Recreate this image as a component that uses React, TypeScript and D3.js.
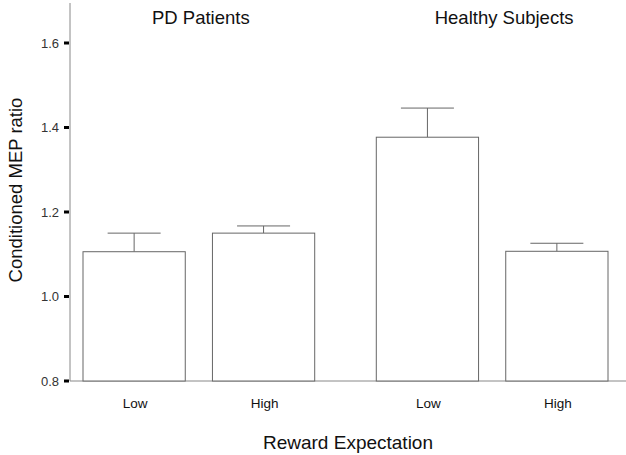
import React from "react";
import * as d3 from "d3";

const groups = ["PD Patients", "Healthy Subjects"];
const levels = ["Low", "High"];
const means = [
  [1.106, 1.15],
  [1.377, 1.107],
];
const errTops = [
  [1.15, 1.167],
  [1.446, 1.126],
];
const yTicks = [0.8, 1.0, 1.2, 1.4, 1.6];

const W = 626;
const H = 455;
const FONT = "'Liberation Sans', Arial, sans-serif";

export default function App() {
  const y = d3.scaleLinear().domain([0.8, 1.6]).range([381, 43]);
  const x0 = d3.scaleBand<string>().domain(groups).range([83, 608]).paddingInner(0.21).paddingOuter(0);
  const x1 = d3.scaleBand<string>().domain(levels).range([0, x0.bandwidth()]).paddingInner(0.21).paddingOuter(0);
  const axisX = 70;
  const bw = x1.bandwidth();
  const capW = 53;

  return (
    <svg width={W} height={H} style={{ position: "absolute", left: 0, top: 0, background: "#fff" }}>
      <line x1={axisX} x2={axisX} y1={3} y2={y(0.8)} stroke="#888" strokeWidth={1} />
      <line x1={axisX} x2={W} y1={y(0.8)} y2={y(0.8)} stroke="#888" strokeWidth={1} />
      {yTicks.map((t) => (
        <g key={t}>
          <rect x={64} y={y(t) - 1.5} width={5} height={3} fill="#000" />
          <text x={59} y={y(t) + 4.5} textAnchor="end" fontSize={13} fontFamily={FONT} fill="#333">
            {t.toFixed(1)}
          </text>
        </g>
      ))}
      {groups.map((g, gi) => (
        <g key={g}>
          <text
            x={x0(g)! + x0.bandwidth() / 2 + (gi === 0 ? 2 : 12)}
            y={24}
            textAnchor="middle"
            fontSize={18.5}
            fontFamily={FONT}
            fill="#111"
          >
            {g}
          </text>
          {levels.map((l, li) => {
            const bx = x0(g)! + x1(l)!;
            const cx = bx + bw / 2;
            const v = means[gi][li];
            const e = errTops[gi][li];
            return (
              <g key={l}>
                <line x1={cx} x2={cx} y1={y(v)} y2={y(e)} stroke="#666" strokeWidth={1} />
                <line x1={cx - capW / 2} x2={cx + capW / 2} y1={y(e)} y2={y(e)} stroke="#666" strokeWidth={1} />
                <rect
                  x={bx}
                  y={y(v)}
                  width={bw}
                  height={y(0.8) - y(v)}
                  fill="#fff"
                  stroke="#666"
                  strokeWidth={1}
                />
                <text x={cx + 1} y={408} textAnchor="middle" fontSize={13.5} fontFamily={FONT} fill="#111">
                  {l}
                </text>
              </g>
            );
          })}
        </g>
      ))}
      <text x={348} y={449} textAnchor="middle" fontSize={19} fontFamily={FONT} fill="#111">
        Reward Expectation
      </text>
      <text
        transform={`translate(22, 190) rotate(-90)`}
        textAnchor="middle"
        fontSize={18.5}
        fontFamily={FONT}
        fill="#111"
      >
        Conditioned MEP ratio
      </text>
    </svg>
  );
}
